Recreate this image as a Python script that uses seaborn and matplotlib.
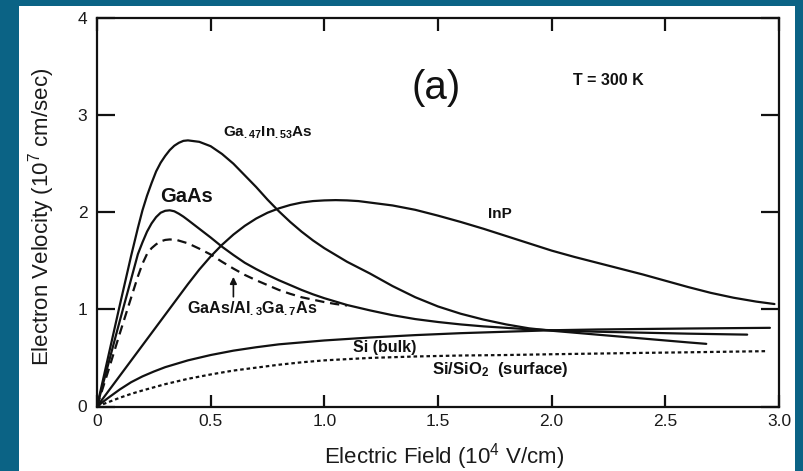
import matplotlib
matplotlib.use("Agg")
import matplotlib.pyplot as plt
from matplotlib.patches import Rectangle
import pandas as pd
import seaborn as sns

# Axis ticks: electric field (10^4 V/cm) and electron velocity (10^7 cm/s)
x_ticks = [0, 0.5, 1.0, 1.5, 2.0, 2.5, 3.0]
x_tick_labels = ["0", "0.5", "1.0", "1.5", "2.0", "2.5", "3.0"]
y_ticks = [0, 1, 2, 3, 4]
y_tick_labels = ["0", "1", "2", "3", "4"]

# Velocity-field characteristics at T = 300 K
gainas_field = [0, 0.05, 0.10, 0.15, 0.18, 0.20, 0.22, 0.24, 0.26, 0.28, 0.30, 0.32,
                0.34, 0.36, 0.38, 0.40, 0.45, 0.50, 0.55, 0.60, 0.65, 0.70, 0.75,
                0.80, 0.85, 0.90, 0.95, 1.00, 1.05, 1.10, 1.15, 1.20, 1.30, 1.40,
                1.50, 1.60, 1.70, 1.80, 1.90, 2.00, 2.10, 2.20, 2.30, 2.40, 2.50,
                2.60, 2.68]
gainas_vel = [0, 0.52, 1.04, 1.55, 1.84, 2.02, 2.17, 2.30, 2.42, 2.51, 2.58, 2.64,
              2.685, 2.715, 2.735, 2.74, 2.725, 2.68, 2.60, 2.50, 2.38, 2.26, 2.13,
              2.01, 1.90, 1.80, 1.71, 1.63, 1.56, 1.49, 1.43, 1.37, 1.24, 1.125,
              1.03, 0.955, 0.895, 0.845, 0.805, 0.78, 0.76, 0.74, 0.72, 0.70, 0.68,
              0.66, 0.645]

gaas_field = [0, 0.05, 0.10, 0.15, 0.18, 0.20, 0.22, 0.24, 0.26, 0.28, 0.30, 0.32,
              0.34, 0.36, 0.38, 0.40, 0.45, 0.50, 0.55, 0.60, 0.65, 0.70, 0.75,
              0.80, 0.85, 0.90, 0.95, 1.00, 1.05, 1.10, 1.20, 1.30, 1.40, 1.50,
              1.60, 1.70, 1.80, 1.90, 2.00, 2.20, 2.40, 2.60, 2.86]
gaas_vel = [0, 0.44, 0.88, 1.31, 1.57, 1.69, 1.80, 1.885, 1.95, 1.995, 2.015, 2.02,
            2.01, 1.985, 1.955, 1.92, 1.83, 1.74, 1.645, 1.56, 1.48, 1.415, 1.355,
            1.30, 1.25, 1.20, 1.155, 1.115, 1.08, 1.045, 0.99, 0.94, 0.90, 0.87,
            0.845, 0.825, 0.81, 0.795, 0.785, 0.77, 0.76, 0.75, 0.74]

hetero_field = [0, 0.05, 0.10, 0.15, 0.18, 0.20, 0.22, 0.24, 0.26, 0.28, 0.30, 0.32,
                0.35, 0.40, 0.45, 0.50, 0.55, 0.60, 0.65, 0.70, 0.75, 0.80, 0.85,
                0.90, 0.95, 1.00, 1.05, 1.10]
hetero_vel = [0, 0.37, 0.75, 1.12, 1.34, 1.47, 1.57, 1.63, 1.67, 1.70, 1.715, 1.72,
              1.715, 1.68, 1.625, 1.565, 1.49, 1.42, 1.355, 1.30, 1.25, 1.20, 1.16,
              1.125, 1.10, 1.075, 1.055, 1.04]

inp_field = [0, 0.10, 0.20, 0.30, 0.40, 0.45, 0.50, 0.55, 0.60, 0.65, 0.70, 0.75,
             0.80, 0.85, 0.90, 0.95, 1.00, 1.05, 1.10, 1.15, 1.20, 1.30, 1.40,
             1.50, 1.60, 1.70, 1.80, 1.90, 2.00, 2.10, 2.20, 2.30, 2.40, 2.50,
             2.60, 2.70, 2.80, 2.90, 2.98]
inp_vel = [0, 0.315, 0.63, 0.945, 1.26, 1.41, 1.545, 1.665, 1.77, 1.86, 1.935, 1.995,
           2.04, 2.075, 2.10, 2.115, 2.122, 2.125, 2.122, 2.115, 2.10, 2.07, 2.025,
           1.965, 1.90, 1.83, 1.755, 1.68, 1.605, 1.54, 1.48, 1.42, 1.36, 1.295,
           1.23, 1.17, 1.12, 1.08, 1.055]

si_field = [0, 0.05, 0.10, 0.15, 0.20, 0.25, 0.30, 0.35, 0.40, 0.50, 0.60, 0.70,
            0.80, 0.90, 1.00, 1.10, 1.20, 1.40, 1.60, 1.80, 2.00, 2.20, 2.40,
            2.60, 2.80, 2.96]
si_vel = [0, 0.09, 0.175, 0.25, 0.31, 0.36, 0.405, 0.44, 0.475, 0.53, 0.575, 0.61,
          0.64, 0.66, 0.68, 0.695, 0.71, 0.735, 0.755, 0.77, 0.785, 0.793, 0.798,
          0.803, 0.807, 0.81]

sio2_field = [0, 0.05, 0.10, 0.15, 0.20, 0.30, 0.40, 0.50, 0.60, 0.70, 0.80, 0.90,
              1.00, 1.20, 1.40, 1.60, 1.80, 2.00, 2.20, 2.40, 2.60, 2.80, 2.95]
sio2_vel = [0, 0.045, 0.09, 0.13, 0.165, 0.23, 0.285, 0.33, 0.37, 0.40, 0.43, 0.455,
            0.475, 0.50, 0.515, 0.525, 0.53, 0.538, 0.545, 0.552, 0.558, 0.565, 0.57]

BORDER = "#0b6385"
INK = "#111111"

sns.set_style("ticks")
plt.rcParams["font.family"] = ["Liberation Sans", "DejaVu Sans"]
plt.rcParams["mathtext.default"] = "regular"

fig = plt.figure(figsize=(8.04, 4.71), dpi=100)
fig.patch.set_facecolor(BORDER)
fig.add_artist(Rectangle((19 / 804, 0), (795 - 19) / 804, 1 - 6 / 471,
                         transform=fig.transFigure, facecolor="white",
                         edgecolor="none", zorder=-1))
ax = fig.add_axes([97 / 804, 1 - 406.5 / 471, (779 - 97) / 804, (406.5 - 18) / 471])

curves = [
    (gainas_field, gainas_vel, "-"),
    (gaas_field, gaas_vel, "-"),
    (hetero_field, hetero_vel, (0, (4.2, 2.6))),
    (inp_field, inp_vel, "-"),
    (si_field, si_vel, "-"),
    (sio2_field, sio2_vel, (0, (1.6, 1.3))),
]
for fld, vel, ls in curves:
    df = pd.DataFrame({"field": fld, "velocity": vel})
    sns.lineplot(data=df, x="field", y="velocity", ax=ax, color=INK,
                 linewidth=1.6, linestyle=ls, estimator=None, sort=False)

ax.set_xlim(0, 3.0)
ax.set_ylim(0, 4)
ax.set_xticks(x_ticks)
ax.set_xticklabels(x_tick_labels)
ax.set_yticks(y_ticks)
ax.set_yticklabels(y_tick_labels)

for s in ax.spines.values():
    s.set_visible(True)
    s.set_linewidth(1.6)
    s.set_color(INK)

ax.tick_params(axis="both", direction="in", width=1.6, color=INK,
               labelsize=12.5, labelcolor="#1a1a1a")
ax.tick_params(axis="y", which="major", length=13, pad=7, left=True, right=True)
ax.tick_params(axis="x", which="major", length=9, pad=5.5, top=True, bottom=True)

ax.set_xlabel("Electric Field (10$^4$ V/cm)", fontsize=16, color="#1a1a1a")
ax.set_ylabel("Electron Velocity (10$^7$ cm/sec)", fontsize=16, color="#1a1a1a")
ax.xaxis.set_label_coords(0.509, -0.13)
ax.xaxis.label.set_verticalalignment("center")
ax.yaxis.set_label_coords(-0.082, 0.488)
ax.yaxis.label.set_verticalalignment("center")

bold = dict(fontweight="bold", color=INK, ha="left", va="baseline")
ax.text(1.49, 3.28, "(a)", fontsize=29, color=INK, ha="center", va="center")
ax.text(2.25, 3.36, "T = 300 K", fontsize=11.5, fontweight="bold", color=INK,
        ha="center", va="center")
ax.text(0.554, 2.78, "Ga$_{.47}$In$_{.53}$As", fontsize=11, **bold)
ax.text(0.277, 2.106, "GaAs", fontsize=14.5, **bold)
ax.text(1.72, 1.94, "InP", fontsize=11, **bold)
ax.text(0.396, 0.963, "GaAs/Al$_{.3}$Ga$_{.7}$As", fontsize=11.6, **bold)
ax.text(1.126, 0.56, "Si (bulk)", fontsize=11.5, **bold)
ax.text(1.474, 0.335, "Si/SiO$_2$  (surface)", fontsize=12, **bold)
ax.annotate("", xy=(0.60, 1.335), xytext=(0.60, 1.13),
            arrowprops=dict(arrowstyle="-|>", color=INK, lw=1.2,
                            mutation_scale=10, shrinkA=0, shrinkB=0))

fig.savefig("out.png", dpi=100, facecolor=fig.get_facecolor())
